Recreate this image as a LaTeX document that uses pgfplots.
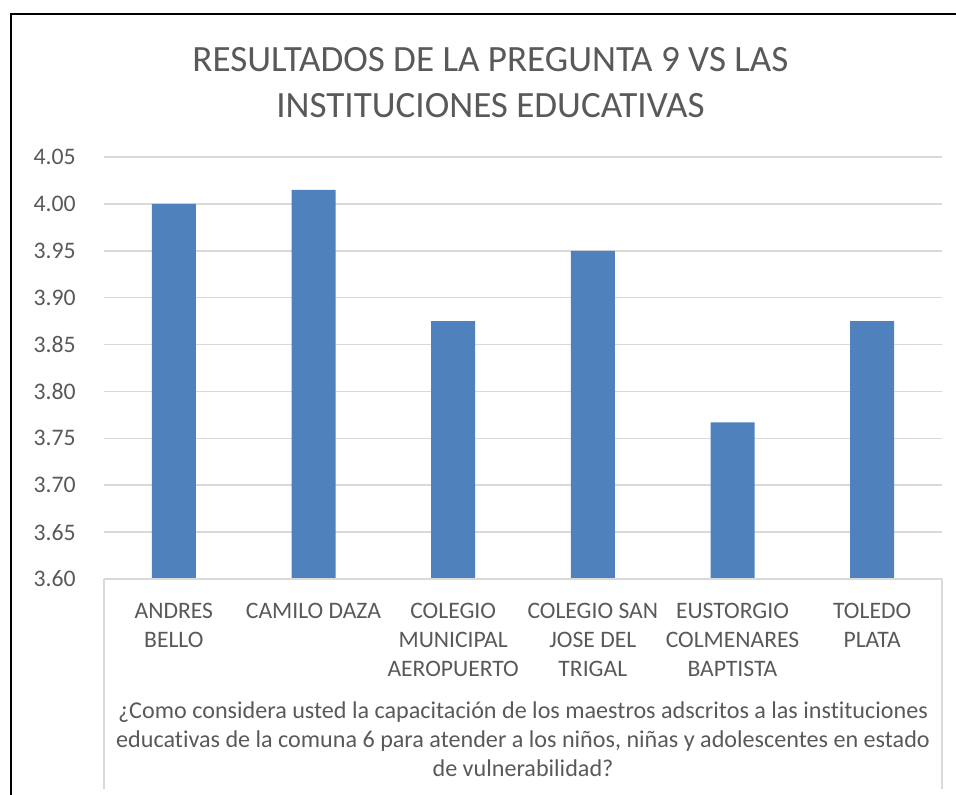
\documentclass[border=0pt]{standalone}
\usepackage{fontspec}
\setmainfont{Carlito}[Ligatures={NoCommon}]
\usepackage{pgfplots}
\pgfplotsset{compat=1.18}
\definecolor{barblue}{HTML}{4F81BD}
\definecolor{txtgray}{HTML}{595959}
\definecolor{gridgray}{HTML}{D9D9D9}
\begin{document}
\begin{tikzpicture}
\path[use as bounding box] (0pt,0pt) rectangle (717pt,596.25pt);
\draw[black, line width=1.5pt] (8.25pt,0pt) -- (8.25pt,585.75pt) -- (717pt,585.75pt);
\begin{axis}[
  at={(78pt,162pt)}, anchor=south west,
  width=628.5pt, height=316.5pt, scale only axis,
  xmin=-0.5, xmax=5.5, ymin=3.6, ymax=4.05,
  ybar, bar width=33pt, bar shift=0pt,
  axis line style={draw=none},
  ymajorgrids, grid style={gridgray, line width=1.1pt},
  ytick={3.60,3.65,3.70,3.75,3.80,3.85,3.90,3.95,4.00,4.05},
  /pgf/number format/fixed, /pgf/number format/fixed zerofill, /pgf/number format/precision=2, /pgf/number format/assume math mode=true,
  yticklabel style={font=\fontsize{17.8}{21}\selectfont, text=txtgray, inner sep=0pt, xshift=-21pt},
  xtick={0,1,2,3,4,5},
  xticklabels={{ANDRES\\BELLO},{CAMILO DAZA},{COLEGIO\\MUNICIPAL\\AEROPUERTO},{COLEGIO SAN\\JOSE DEL\\TRIGAL},{EUSTORGIO\\COLMENARES\\BAPTISTA},{TOLEDO\\PLATA}},
  xticklabel style={font=\fontsize{17.7}{21.75}\selectfont, text=txtgray, align=center, anchor=north, inner sep=0pt, yshift=-18pt},
  major tick length=0pt,
  xlabel={¿Como considera usted la capacitación de los maestros adscritos a las instituciones\\educativas de la comuna 6 para atender a los niños, niñas y adolescentes en estado\\de vulnerabilidad?},
  xlabel style={font=\fontsize{18.1}{21.75}\selectfont, text=txtgray, align=center, at={(rel axis cs:0.5,0)}, anchor=north, inner sep=0pt, yshift=-91.5pt},
  title={RESULTADOS DE LA PREGUNTA 9 VS LAS\\INSTITUCIONES EDUCATIVAS},
  title style={font=\fontsize{27.8}{34.5}\selectfont, text=txtgray, align=center, at={(rel axis cs:0.5,1)}, anchor=north, inner sep=0pt, yshift=76.5pt, xshift=-24.4pt},
  clip=false,
]
\addplot[fill=barblue, draw=none] coordinates {(0,4.000) (1,4.015) (2,3.875) (3,3.950) (4,3.767) (5,3.875)};
\draw[gridgray, line width=1.1pt] (rel axis cs:0,0) -- (rel axis cs:1,0);
\draw[gridgray, line width=1.1pt] (rel axis cs:0,0) -- ++(0pt,-157.5pt);
\draw[gridgray, line width=1.1pt] (rel axis cs:1,0) -- ++(0pt,-157.5pt);
\end{axis}
\end{tikzpicture}
\end{document}
